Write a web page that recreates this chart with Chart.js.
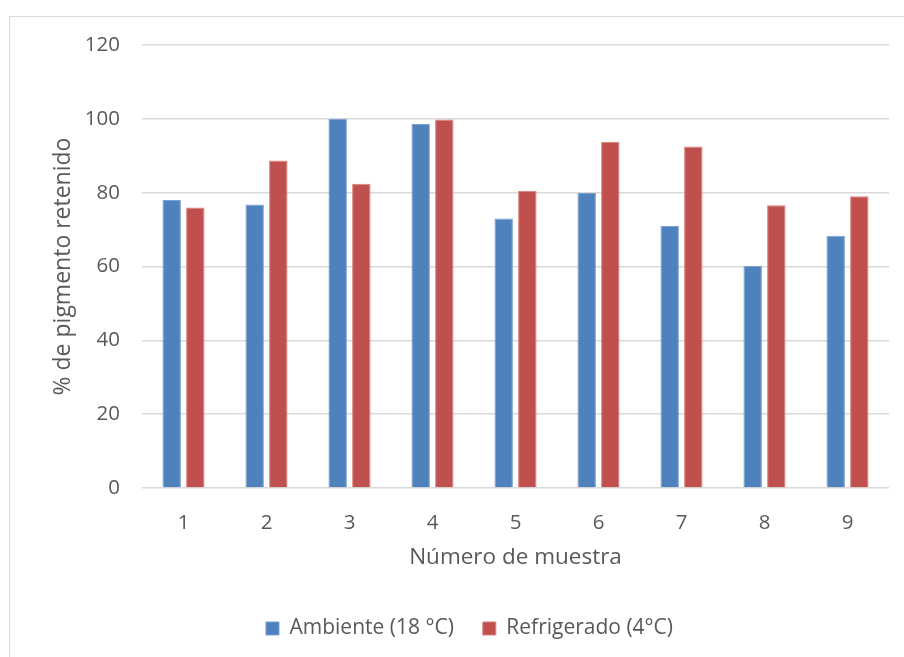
<!DOCTYPE html>
<html>
<head>
<meta charset="utf-8">
<script src="https://cdn.jsdelivr.net/npm/chart.js@4.4.1/dist/chart.umd.min.js"></script>
<style>
  html, body { margin: 0; padding: 0; background: #ffffff; }
  #wrap { position: relative; width: 904px; height: 657px; overflow: hidden; }
  #frame { position: absolute; left: 9px; top: 16px; width: 1000px; height: 1000px;
           border-top: 1.5px solid #d9d9d9; border-left: 1.5px solid #d9d9d9; box-sizing: border-box; }
  canvas { position: absolute; left: 0; top: 0; }
</style>
</head>
<body>
<div id="wrap">
  <div id="frame"></div>
  <canvas id="chart" width="904" height="657"></canvas>
</div>
<script>
// Sample numbers (x axis)
const muestras = ['1', '2', '3', '4', '5', '6', '7', '8', '9'];
// % of pigment retained, stored at room temperature (18 °C)
const ambiente = [78.0, 76.8, 100.0, 98.6, 73.0, 79.9, 71.0, 60.2, 68.3];
// % of pigment retained, refrigerated (4 °C)
const refrigerado = [76.0, 88.7, 82.4, 99.8, 80.5, 93.8, 92.5, 76.6, 79.0];
// y axis range and step
const yMin = 0, yMax = 120, yStep = 20;

const textColor = '#595959';
const fontFamily = '"Open Sans", "Liberation Sans", sans-serif';

new Chart(document.getElementById('chart'), {
  type: 'bar',
  data: {
    labels: muestras,
    datasets: [
      { label: 'Ambiente (18 °C)', data: ambiente, backgroundColor: '#4f81bd',
        borderColor: '#7a9fd0', borderWidth: 1 },
      { label: 'Refrigerado (4°C)', data: refrigerado, backgroundColor: '#c0504d',
        borderColor: '#d9807e', borderWidth: 1 }
    ]
  },
  options: {
    responsive: false,
    animation: false,
    devicePixelRatio: 1,
    layout: { padding: { left: 50, right: 15, top: 45, bottom: 8 } },
    datasets: { bar: { categoryPercentage: 0.57, barPercentage: 0.78 } },
    plugins: {
      legend: {
        position: 'bottom',
        maxHeight: 70,
        labels: {
          color: textColor,
          font: { family: fontFamily, size: 21 },
          boxWidth: 13, boxHeight: 13,
          padding: 29
        }
      },
      tooltip: { enabled: false }
    },
    scales: {
      x: {
        grid: { display: false, drawTicks: false },
        border: { display: false },
        ticks: { color: textColor, font: { family: fontFamily, size: 20.5 }, padding: 23 },
        title: { display: true, text: 'Número de muestra', color: textColor,
                 font: { family: fontFamily, size: 22.5 }, padding: { top: 0, bottom: 17.5 } },
        afterFit: s => { s.height = 101; }
      },
      y: {
        min: yMin, max: yMax,
        grid: { color: '#d9d9d9', lineWidth: 1.5, drawTicks: false },
        border: { display: false },
        ticks: { stepSize: yStep, color: textColor, font: { family: fontFamily, size: 20.5 }, padding: 22 },
        title: { display: true, text: '% de pigmento retenido', color: textColor,
                 font: { family: fontFamily, size: 23 }, padding: { top: 0, bottom: 0 } },
        afterFit: s => { s.width = 92; }
      }
    }
  }
});
</script>
</body>
</html>
